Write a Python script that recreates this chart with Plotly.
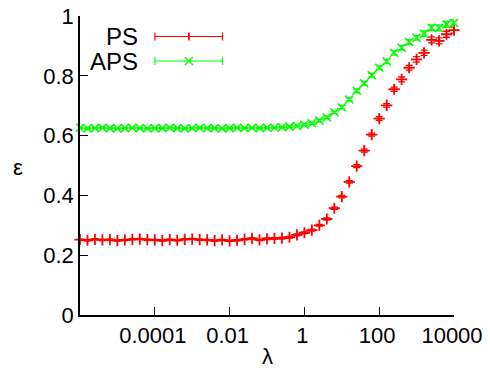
import plotly.graph_objects as go

# ---- data ----
log_lambda_steps = list(range(-30, 21))  # exponents in fifths of a decade
lam = [10 ** (k / 5) for k in log_lambda_steps]

ps_eps = [0.252, 0.250, 0.253, 0.251, 0.252, 0.249, 0.251, 0.253, 0.254, 0.252,
          0.251, 0.249, 0.252, 0.250, 0.253, 0.254, 0.252, 0.251, 0.249, 0.251,
          0.248, 0.250, 0.253, 0.256, 0.251, 0.255, 0.256, 0.257, 0.260, 0.268,
          0.275, 0.284, 0.300, 0.321, 0.357, 0.396, 0.445, 0.498, 0.550, 0.603,
          0.657, 0.701, 0.755, 0.788, 0.827, 0.855, 0.877, 0.920, 0.917, 0.939,
          0.953]
ps_err = [0.002, 0.002, 0.002, 0.002, 0.002, 0.002, 0.002, 0.002, 0.002, 0.002,
          0.002, 0.002, 0.002, 0.002, 0.002, 0.002, 0.002, 0.002, 0.002, 0.002,
          0.002, 0.002, 0.002, 0.002, 0.002, 0.003, 0.003, 0.003, 0.003, 0.003,
          0.003, 0.003, 0.003, 0.004, 0.004, 0.004, 0.004, 0.005, 0.005, 0.005,
          0.006, 0.006, 0.007, 0.008, 0.008, 0.009, 0.009, 0.010, 0.010, 0.010,
          0.010]

aps_eps = [0.626, 0.624, 0.625, 0.626, 0.625, 0.624, 0.625, 0.626, 0.625, 0.624,
           0.625, 0.625, 0.626, 0.625, 0.624, 0.625, 0.626, 0.625, 0.625, 0.624,
           0.625, 0.626, 0.625, 0.626, 0.625, 0.626, 0.627, 0.628, 0.630, 0.632,
           0.636, 0.641, 0.650, 0.661, 0.678, 0.695, 0.721, 0.750, 0.775, 0.802,
           0.827, 0.848, 0.877, 0.894, 0.913, 0.927, 0.941, 0.961, 0.960, 0.972,
           0.977]
aps_err = [0.002, 0.002, 0.002, 0.002, 0.002, 0.002, 0.002, 0.002, 0.002, 0.002,
           0.002, 0.002, 0.002, 0.002, 0.002, 0.002, 0.002, 0.002, 0.002, 0.002,
           0.002, 0.002, 0.002, 0.002, 0.002, 0.002, 0.002, 0.002, 0.003, 0.003,
           0.003, 0.003, 0.004, 0.004, 0.004, 0.005, 0.005, 0.005, 0.006, 0.006,
           0.006, 0.007, 0.007, 0.008, 0.008, 0.008, 0.009, 0.009, 0.010, 0.010,
           0.010]

x_tickvals = [1e-4, 1e-2, 1, 100, 1e4]
x_ticktext = ["0.0001", "0.01", "1", "100", "10000"]
y_tickvals = [0, 0.2, 0.4, 0.6, 0.8, 1.0]
y_ticktext = ["0", "0.2", "0.4", "0.6", "0.8", "1"]
series_names = ["PS", "APS"]
x_title, y_title = "λ", "ε"
RED = "#ff0000"
GREEN = "#00ff00"

# ---- layout geometry ----
# The page body has an 8px margin, so the figure is drawn at (8, 8) in the window.
OFF = 8
W, H = 490 - 2 * OFF, 374 - 2 * OFF
PL, PR, PT, PB = 80, 454.4, 16, 315          # plot box in window pixels
ML, MT = PL - OFF, PT - OFF
MR, MB = W - (PR - OFF), H - (PB - OFF)
PW, PH = PR - PL, PB - PT
FONT = "Liberation Sans, Arial, Helvetica, sans-serif"
FS = 22


def px_x(p):
    return (p - PL) / PW


def px_y(p):
    return (PB - p) / PH


fig = go.Figure()

fig.add_trace(go.Scatter(
    x=lam, y=ps_eps, mode="markers", name=series_names[0], showlegend=False,
    cliponaxis=False,
    marker=dict(symbol="cross-thin", size=8, color=RED, line=dict(color=RED, width=1.8)),
    error_y=dict(type="data", array=ps_err, visible=True, color=RED, thickness=1.3, width=3.5),
))
fig.add_trace(go.Scatter(
    x=lam, y=aps_eps, mode="markers", name=series_names[1], showlegend=False,
    cliponaxis=False,
    marker=dict(symbol="x-thin", size=8, color=GREEN, line=dict(color=GREEN, width=1.5)),
    error_y=dict(type="data", array=aps_err, visible=True, color=GREEN, thickness=1.3, width=3.5),
))

# ---- gnuplot-style key (text right-aligned, errorbar sample to the right) ----
shapes = []
annotations = []
key_rows = [(36.5, series_names[0], RED, "plus"), (61, series_names[1], GREEN, "x")]
for yc, name, col, sym in key_rows:
    annotations.append(dict(x=px_x(140), y=px_y(yc), xref="paper", yref="paper",
                            text=name, showarrow=False, xanchor="right", yanchor="middle",
                            font=dict(family=FONT, size=24, color="black")))
    x0, x1, xm = 155, 222.7, 189
    shapes.append(dict(type="line", xref="paper", yref="paper", x0=px_x(x0), x1=px_x(x1),
                       y0=px_y(yc), y1=px_y(yc), line=dict(color=col, width=1.2)))
    for xe in (x0, x1):
        shapes.append(dict(type="line", xref="paper", yref="paper", x0=px_x(xe), x1=px_x(xe),
                           y0=px_y(yc - 4), y1=px_y(yc + 4), line=dict(color=col, width=1.2)))
    if sym == "plus":
        shapes.append(dict(type="line", xref="paper", yref="paper", x0=px_x(xm), x1=px_x(xm),
                           y0=px_y(yc - 4), y1=px_y(yc + 4), line=dict(color=col, width=1.8)))
    else:
        shapes.append(dict(type="line", xref="paper", yref="paper", x0=px_x(xm - 4), x1=px_x(xm + 4),
                           y0=px_y(yc - 4), y1=px_y(yc + 4), line=dict(color=col, width=1.4)))
        shapes.append(dict(type="line", xref="paper", yref="paper", x0=px_x(xm - 4), x1=px_x(xm + 4),
                           y0=px_y(yc + 4), y1=px_y(yc - 4), line=dict(color=col, width=1.4)))

# axis titles
annotations.append(dict(x=px_x(268), y=px_y(356), xref="paper", yref="paper", text=x_title,
                        showarrow=False, xanchor="center", yanchor="middle",
                        font=dict(family=FONT, size=FS, color="black")))
annotations.append(dict(x=px_x(18), y=px_y(167), xref="paper", yref="paper", text=y_title,
                        showarrow=False, xanchor="center", yanchor="middle",
                        font=dict(family=FONT, size=FS, color="black")))

axis_common = dict(showgrid=False, zeroline=False, showline=True, linecolor="black",
                   linewidth=1.5, ticks="inside", ticklen=8, tickwidth=1.2, tickcolor="black",
                   mirror=False, automargin=False, ticklabeloverflow="allow",
                   tickfont=dict(family=FONT, size=FS, color="black"))

fig.update_layout(
    width=W, height=H,
    margin=dict(l=ML, r=MR, t=MT, b=MB, autoexpand=False),
    paper_bgcolor="white", plot_bgcolor="white",
    shapes=shapes, annotations=annotations,
    xaxis=dict(type="log", range=[-6, 4], tickvals=x_tickvals, ticktext=x_ticktext,
               ticklabelshift=-2, **axis_common),
    yaxis=dict(range=[0, 1], tickvals=y_tickvals, ticktext=y_ticktext, **axis_common),
)

fig.write_html("out.html")
